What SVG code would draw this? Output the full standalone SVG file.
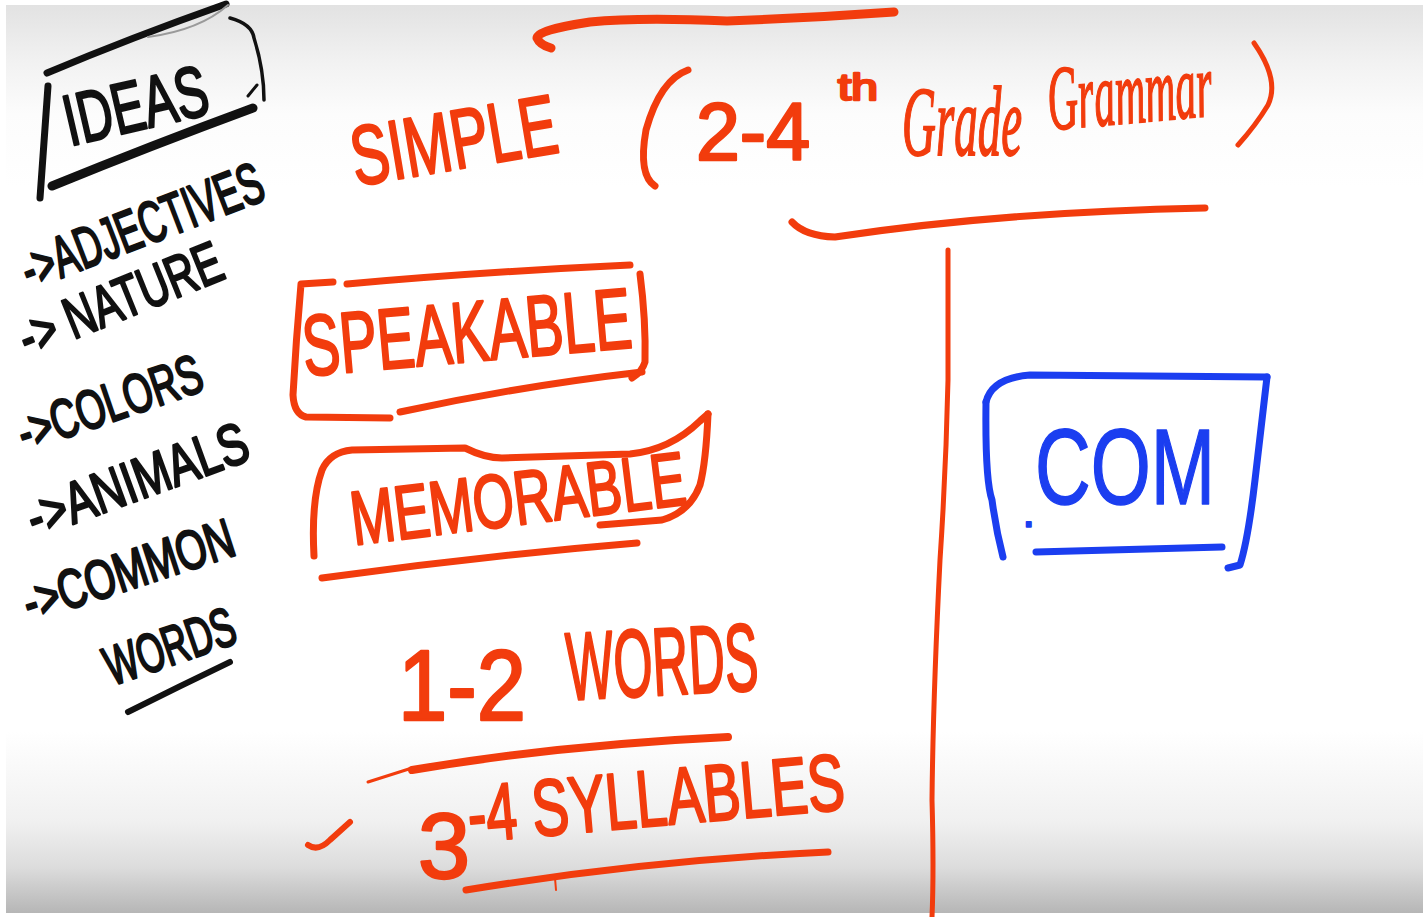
<svg xmlns="http://www.w3.org/2000/svg" width="1426" height="917" viewBox="0 0 1426 917">
  <defs>
    <linearGradient id="board" x1="0" y1="0" x2="0" y2="1">
      <stop offset="0" stop-color="#e2e2e2"/>
      <stop offset="0.06" stop-color="#f1f1f1"/>
      <stop offset="0.12" stop-color="#fcfcfc"/>
      <stop offset="0.2" stop-color="#ffffff"/>
      <stop offset="0.8" stop-color="#ffffff"/>
      <stop offset="0.9" stop-color="#f0f0f0"/>
      <stop offset="0.95" stop-color="#dcdcdc"/>
      <stop offset="1" stop-color="#b6b6b6"/>
    </linearGradient>
    <style>
      .ink { fill: none; stroke-linecap: round; stroke-linejoin: round; }
      .blk { stroke: #111111; }
      .red { stroke: #f23c0d; }
      .blu { stroke: #1b3ef0; }
      .hand { font-family: "Liberation Sans", "DejaVu Sans", sans-serif; stroke-linejoin: round; }
      .hb { fill: #111111; stroke: #111111; stroke-width: 2.5; }
      .hr { fill: #f23c0d; stroke: #f23c0d; stroke-width: 2.5; }
      .hu { fill: #1b3ef0; stroke: #1b3ef0; stroke-width: 1.5; }
      .script { font-family: "Liberation Serif", "DejaVu Serif", serif; font-style: italic; fill: #f23c0d; stroke: #f23c0d; stroke-width: 1.8; }
    </style>
  </defs>

  <!-- whiteboard -->
  <rect width="1426" height="917" fill="#ffffff"/>
  <rect x="6" y="5" width="1417" height="908" fill="url(#board)"/>

  <!-- ideas list, black ink -->
  <g id="ideas">
    <path class="ink blk" stroke-width="7" d="M47,73 Q130,38 226,4"/>
    <path class="ink" stroke="#9a9a9a" stroke-width="2" d="M148,37 Q200,30 228,5"/>
    <path class="ink blk" stroke-width="3.5" d="M230,18 Q252,24 254,38 Q264,70 264,100"/>
    <path class="ink blk" stroke-width="3" d="M248,96 L257,85"/>
    <path class="ink blk" stroke-width="7" d="M48,86 Q44,140 40,198"/>
    <path class="ink blk" stroke-width="9" d="M52,186 Q150,146 253,108"/>
    <text class="hand hb" font-size="72" transform="translate(70,146) rotate(-13)" textLength="146" lengthAdjust="spacingAndGlyphs">IDEAS</text>
    <text class="hand hb" font-size="58" transform="translate(30,290) rotate(-21)" textLength="255" lengthAdjust="spacingAndGlyphs">-&gt;ADJECTIVES</text>
    <text class="hand hb" font-size="58" transform="translate(28,358) rotate(-22)" textLength="215" lengthAdjust="spacingAndGlyphs">-&gt; NATURE</text>
    <text class="hand hb" font-size="55" transform="translate(25,452) rotate(-19)" textLength="192" lengthAdjust="spacingAndGlyphs">-&gt;COLORS</text>
    <text class="hand hb" font-size="58" transform="translate(35,538) rotate(-20)" textLength="232" lengthAdjust="spacingAndGlyphs">-&gt;ANIMALS</text>
    <text class="hand hb" font-size="55" transform="translate(30,622) rotate(-18)" textLength="219" lengthAdjust="spacingAndGlyphs">-&gt;COMMON</text>
    <text class="hand hb" font-size="55" transform="translate(112,686) rotate(-19)" textLength="135" lengthAdjust="spacingAndGlyphs">WORDS</text>
    <path class="ink blk" stroke-width="6" d="M128,712 Q180,686 230,662"/>
  </g>

  <!-- heading: simple (2-4th grade grammar) -->
  <g id="simple">
    <path class="ink red" stroke-width="9" d="M894,12 Q810,18 727,21 Q640,17 590,22 Q537,30 537,38 Q540,45 551,48"/>
    <text class="hand hr" font-size="84" transform="translate(356,186) rotate(-9.5)" textLength="208" lengthAdjust="spacingAndGlyphs">SIMPLE</text>
    <path class="ink red" stroke-width="7" d="M688,70 Q660,80 646,130 Q638,175 655,186"/>
    <text class="hand hr" font-size="82" x="696" y="160" textLength="114" lengthAdjust="spacingAndGlyphs">2-4</text>
    <text class="hand hr" font-size="36" x="838" y="100" textLength="40" lengthAdjust="spacingAndGlyphs">th</text>
    <text class="script" font-size="100" x="902" y="155" textLength="120" lengthAdjust="spacingAndGlyphs">Grade</text>
    <text class="script" font-size="92" transform="translate(1050,130) rotate(-5)" textLength="165" lengthAdjust="spacingAndGlyphs">Grammar</text>
    <path class="ink red" stroke-width="5" d="M1254,43 Q1280,80 1268,105 Q1256,125 1238,145"/>
    <path class="ink red" stroke-width="7" d="M792,222 Q805,236 835,237 Q1000,212 1205,208"/>
  </g>

  <!-- speakable -->
  <g id="speakable">
    <path class="ink red" stroke-width="7" d="M333,282 L301,284 Q296,340 293,395 Q294,414 306,417 L390,418"/>
    <path class="ink red" stroke-width="7" d="M347,284 Q480,272 630,265"/>
    <path class="ink red" stroke-width="7" d="M640,274 Q646,320 645,362 Q642,372 632,378"/>
    <path class="ink red" stroke-width="7" d="M400,412 Q520,386 642,372"/>
    <text class="hand hr" font-size="86" transform="translate(305,376) rotate(-5)" textLength="330" lengthAdjust="spacingAndGlyphs">SPEAKABLE</text>
  </g>

  <!-- memorable -->
  <g id="memorable">
    <path class="ink red" stroke-width="7" d="M314,556 Q311,500 322,470 Q330,452 352,450 L465,448 Q485,458 502,458 L630,454 Q670,450 700,421 L708,414"/>
    <path class="ink red" stroke-width="7" d="M708,414 Q706,462 700,485 Q690,512 662,520 Q625,523 600,525"/>
    <text class="hand hr" font-size="76" transform="translate(354,545) rotate(-7)" textLength="337" lengthAdjust="spacingAndGlyphs">MEMORABLE</text>
    <path class="ink red" stroke-width="7" d="M322,578 Q480,556 637,543"/>
  </g>

  <!-- 1-2 words -->
  <g id="words">
    <text class="hand hr" font-size="100" x="398" y="720" textLength="128" lengthAdjust="spacingAndGlyphs">1-2</text>
    <text class="hand hr" font-size="96" transform="translate(568,700) rotate(-3)" textLength="192" lengthAdjust="spacingAndGlyphs">WORDS</text>
    <path class="ink red" stroke-width="3" d="M368,782 L412,768"/>
    <path class="ink red" stroke-width="8" d="M412,770 Q560,745 728,737"/>
  </g>

  <!-- 3-4 syllables -->
  <g id="syllables">
    <path class="ink red" stroke-width="6" d="M308,845 Q318,852 330,840 L350,822"/>
    <text class="hand hr" font-size="92" x="418" y="878" textLength="52" lengthAdjust="spacingAndGlyphs">3</text>
    <text class="hand hr" font-size="80" transform="translate(470,842) rotate(-5)" textLength="378" lengthAdjust="spacingAndGlyphs">-4 SYLLABLES</text>
    <path class="ink red" stroke-width="7" d="M466,890 Q650,860 828,852"/>
    <path class="ink red" stroke-width="2" d="M555,878 L556,890"/>
  </g>

  <!-- divider -->
  <g id="connectors">
    <path class="ink red" stroke-width="5" d="M948,250 L948,380 Q946,470 940,560 Q933,700 932,800 Q934,870 932,917"/>
  </g>

  <!-- .com box, blue ink -->
  <g id="dotcom">
    <path class="ink blu" stroke-width="7" d="M986,402 Q985,480 992,500 Q996,530 1003,557"/>
    <path class="ink blu" stroke-width="7" d="M986,402 Q992,378 1030,375 L1267,377"/>
    <path class="ink blu" stroke-width="7" d="M1267,377 Q1262,420 1255,480 Q1248,540 1240,565 L1228,568"/>
    <text class="hand hu" font-size="108"><tspan x="1022" y="527" font-size="48">.</tspan><tspan x="1035" y="504" textLength="180" lengthAdjust="spacingAndGlyphs">COM</tspan></text>
    <path class="ink blu" stroke-width="7" d="M1036,552 L1222,547"/>
  </g>
</svg>
